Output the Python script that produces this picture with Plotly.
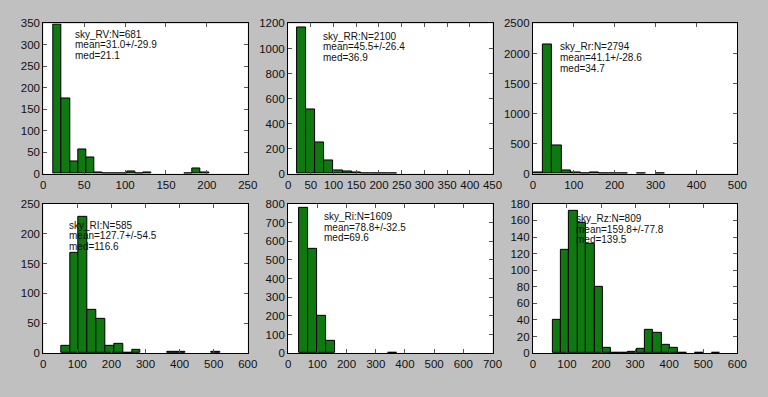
import plotly.graph_objects as go

# ---- data ----
names = ["sky_RV", "sky_RR", "sky_Rr", "sky_RI", "sky_Ri", "sky_Rz"]
n_vals = [681, 2100, 2794, 585, 1609, 809]
means = ["31.0", "45.5", "41.1", "127.7", "78.8", "159.8"]
sigmas = ["29.9", "26.4", "28.6", "54.5", "32.5", "77.8"]
medians = ["21.1", "36.9", "34.7", "116.6", "69.6", "139.5"]

bin_start = [12.4, 20.0, 1.5, 52.0, 38.0, 57.7]
bin_width = [10.0, 20.0, 23.0, 26.0, 30.5, 24.6]

counts_RV = [348, 176, 28, 56, 38, 3, 1, 1, 1, 5, 1, 3, 0, 0, 0, 0, 1, 12, 4]
counts_RR = [1165, 512, 248, 104, 28, 20, 12, 5, 2, 1, 4]
counts_Rr = [30, 2150, 472, 60, 25, 5, 25, 8, 8, 3, 0, 8, 0, 8]
counts_RI = [13, 168, 228, 73, 58, 13, 15, 1, 5, 0, 0, 0, 2, 2, 0, 0, 0, 2]
counts_Ri = [778, 558, 200, 68, 0, 0, 0, 0, 0, 0, 3]
counts_Rz = [40, 124, 172, 157, 132, 80, 7, 1, 1, 2, 5, 28, 25, 10, 7, 1, 0, 1, 0, 1]
counts = [counts_RV, counts_RR, counts_Rr, counts_RI, counts_Ri, counts_Rz]

x_max = [250, 450, 500, 600, 700, 600]
x_dtick = [50, 50, 100, 100, 100, 100]
y_max = [350, 1200, 2500, 250, 800, 180]
y_dtick = [50, 200, 500, 50, 100, 20]

# ---- layout geometry (pixels) ----
W, H = 768, 397
col_px = [(41, 249), (290, 498), (539, 747)]
row_px = [(18, 173), (204, 358)]
# text position inside each panel: (x offset from left, y of first line from top)
text_px = [(30, 11), (33, 13), (26, 24), (24, 22), (35, 13), (42, 15)]
line_gap = 11

GREEN = "#107810"
BG = "#c0c0c0"
FONT = "Liberation Sans, Arial, Helvetica, sans-serif"

fig = go.Figure()
annotations = []
for i in range(6):
    r, c = divmod(i, 3)
    ax = "" if i == 0 else str(i + 1)
    cnt = counts[i]
    xs = [bin_start[i] + bin_width[i] * (k + 0.5) for k in range(len(cnt))]
    keep = [k for k in range(len(cnt)) if cnt[k] > 0]
    fig.add_trace(go.Bar(
        x=[xs[k] for k in keep], y=[cnt[k] for k in keep], width=bin_width[i],
        marker=dict(color=GREEN, line=dict(color="black", width=1)),
        xaxis="x" + ax, yaxis="y" + ax, showlegend=False,
        hoverinfo="x+y",
    ))
    x0, x1 = col_px[c]
    y0, y1 = row_px[r]
    common = dict(showline=True, linecolor="black", linewidth=1, mirror="ticks",
                  ticks="inside", ticklen=4, tickcolor="#555", tickwidth=1,
                  showgrid=False, zeroline=False,
                  tickfont=dict(family=FONT, size=11.5, color="#111"))
    fig.update_layout(**{
        "xaxis" + ax: dict(domain=[x0 / W, x1 / W], range=[0, x_max[i]], dtick=x_dtick[i],
                           tick0=0, anchor="y" + ax, **common),
        "yaxis" + ax: dict(domain=[1 - y1 / H, 1 - y0 / H], range=[0, y_max[i]], dtick=y_dtick[i],
                           tick0=0, anchor="x" + ax, **common),
    })
    tx, ty = text_px[i]
    lines = [f"{names[i]}:N={n_vals[i]}",
             f"mean={means[i]}+/-{sigmas[i]}",
             f"med={medians[i]}"]
    ph = y1 - y0
    pw = x1 - x0
    for j, t in enumerate(lines):
        annotations.append(dict(
            text=t, showarrow=False,
            xref=f"x{ax} domain", yref=f"y{ax} domain",
            x=tx / pw, y=1 - (ty + j * line_gap) / ph,
            xanchor="left", yanchor="middle",
            font=dict(family=FONT, size=10, color="#111"),
        ))

fig.update_layout(
    width=W, height=H, margin=dict(l=0, r=0, t=0, b=0),
    paper_bgcolor=BG, plot_bgcolor="white", bargap=0,
    annotations=annotations,
)
fig.write_html("out.html", config={"displayModeBar": False},
               post_script="document.body.style.margin='0';document.body.style.background='#c0c0c0';")
